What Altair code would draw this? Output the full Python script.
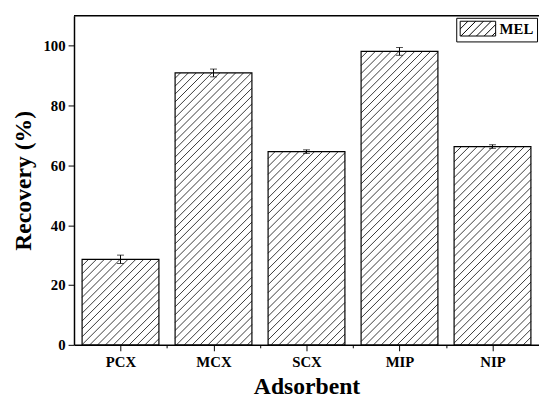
import json
import math
import altair as alt
import numpy as np
import pandas as pd

# ---- data ----
categories = ["PCX", "MCX", "SCX", "MIP", "NIP"]
recovery = [28.6, 90.9, 64.6, 98.1, 66.3]
errors = [1.4, 1.3, 0.6, 1.3, 0.6]
series_name = "MEL"
y_ticks = [0, 10, 20, 30, 40, 50, 60, 70, 80, 90, 100, 110]

# ---- layout / style ----
W, H = 472, 334
YMAX = 110
HALF = 0.413          # half bar width in category units
SP = 8.0              # hatch spacing (px)
FONT = "Liberation Serif"

n = len(categories)
xpx = W / n
ypx = H / YMAX

bars = pd.DataFrame({
    "idx": list(range(n)),
    "cat": categories,
    "value": recovery,
    "err": errors,
    "series": [series_name] * n,
})
bars["x0"] = bars["idx"] - HALF
bars["x1"] = bars["idx"] + HALF
bars["lo"] = bars["value"] - bars["err"]
bars["hi"] = bars["value"] + bars["err"]

# hatch lines (45 deg in pixel space), clipped to each bar, converted back to data units
rows = []
for i, v in zip(bars["idx"], bars["value"]):
    X0 = (i - HALF + 0.5) * xpx
    X1 = (i + HALF + 0.5) * xpx
    h = v * ypx
    m0 = math.floor((X0 - h) / SP) - 1
    m1 = math.ceil(X1 / SP) + 1
    for m in range(m0, m1 + 1):
        k = m * SP
        ylo = max(0.0, X0 - k)
        yhi = min(h, X1 - k)
        if yhi - ylo > 0.5:
            rows.append({
                "hx": (ylo + k) / xpx - 0.5, "hy": ylo / ypx,
                "hx2": (yhi + k) / xpx - 0.5, "hy2": yhi / ypx,
            })
hatch = pd.DataFrame(rows)

# legend swatch path: unit coords scaled by sqrt(size)/2 -> height 15px, width 36px
SW = 2.4   # half width in units (r = 7.5 px)
parts = [f"M{-SW},-1H{SW}V1H{-SW}Z"]
sp_u = 1.05
a = -SW - 2
while a < SW:
    xs, ys = a, 1.0
    xe, ye = a + 2.0, -1.0
    if xs < -SW:
        ys = 1.0 - (-SW - xs)
        xs = -SW
    if xe > SW:
        ye = -1.0 + (xe - SW)
        xe = SW
    if xe - xs > 0.05:
        parts.append(f"M{xs:.3f},{ys:.3f}L{xe:.3f},{ye:.3f}")
    a += sp_u
swatch_path = " ".join(parts)

xscale = alt.Scale(domain=[-0.5, n - 0.5], nice=False, zero=False)
yscale = alt.Scale(domain=[0, YMAX], nice=False)

label_expr = (
    "datum.value % 1 == 0 ? " + json.dumps(categories) + "[datum.value] : ''"
)

x_axis = alt.Axis(
    values=[v / 2 for v in range(0, 2 * n - 1)],
    labelExpr=label_expr,
    title="Adsorbent",
    grid=False,
    tickSize={"condition": {"test": "datum.value % 1 == 0", "value": 6}, "value": 3},
    labelPadding=4,
    titlePadding=5,
)
y_axis = alt.Axis(
    values=y_ticks,
    labelExpr="datum.value % 20 == 0 && datum.value <= 100 ? datum.label : ''",
    title="Recovery (%)",
    grid=False,
    tickSize={"condition": {"test": "datum.value % 20 == 0", "value": 6}, "value": 3},
    labelPadding=3,
    titlePadding=8,
)

base = alt.Chart(bars)

bar_fill = base.mark_rect(stroke=None).encode(
    x=alt.X("x0:Q", scale=xscale, axis=x_axis),
    x2="x1:Q",
    y=alt.Y("value:Q", scale=yscale, axis=y_axis),
    y2=alt.datum(0),
    fill=alt.Fill(
        "series:N",
        scale=alt.Scale(range=["white"]),
        legend=alt.Legend(
            title=None,
            orient="none",
            legendX=388,
            legendY=2,
            symbolType=swatch_path,
            symbolSize=225,
            symbolOffset=11,
            symbolFillColor="white",
            symbolStrokeColor="black",
            symbolStrokeWidth=1,
            labelFont=FONT,
            labelFontSize=15,
            labelFontWeight="bold",
            labelColor="black",
            labelOffset=14,
            strokeColor="black",
            fillColor="white",
            padding=3,
        ),
    ),
)

hatch_layer = alt.Chart(hatch).mark_rule(color="#222222", strokeWidth=0.9).encode(
    x=alt.X("hx:Q", scale=xscale),
    y=alt.Y("hy:Q", scale=yscale),
    x2="hx2:Q",
    y2="hy2:Q",
)

bar_outline = base.mark_rect(fillOpacity=0, stroke="black", strokeWidth=1.2).encode(
    x=alt.X("x0:Q", scale=xscale),
    x2="x1:Q",
    y=alt.Y("value:Q", scale=yscale),
    y2=alt.datum(0),
)

err_rule = base.mark_rule(color="black", strokeWidth=1).encode(
    x=alt.X("idx:Q", scale=xscale),
    y=alt.Y("lo:Q", scale=yscale),
    y2="hi:Q",
)

caps = base.transform_fold(["lo", "hi"], as_=["end", "yv"]).mark_tick(
    color="black", orient="horizontal", size=7, thickness=1
).encode(
    x=alt.X("idx:Q", scale=xscale),
    y=alt.Y("yv:Q", scale=yscale),
)

top_border = alt.Chart(pd.DataFrame({"k": [0]})).mark_rule(
    color="black", strokeWidth=1.5
).encode(y=alt.value(0), x=alt.value(0), x2=alt.value(W))

chart = alt.layer(
    bar_fill, hatch_layer, bar_outline, err_rule, caps, top_border
).properties(
    width=W,
    height=H,
    autosize=alt.AutoSizeParams(type="none"),
    padding={"left": 67, "top": 5, "right": 0, "bottom": 51},
).configure_view(stroke=None).configure_axis(
    domainColor="black",
    domainWidth=1.5,
    tickColor="black",
    tickWidth=1,
    labelFont=FONT,
    labelFontSize=15,
    labelFontWeight="bold",
    labelColor="black",
    titleFont=FONT,
    titleFontSize=24,
    titleFontWeight="bold",
    titleColor="black",
)

chart.save("out.html", embed_options={"renderer": "svg", "actions": False})
